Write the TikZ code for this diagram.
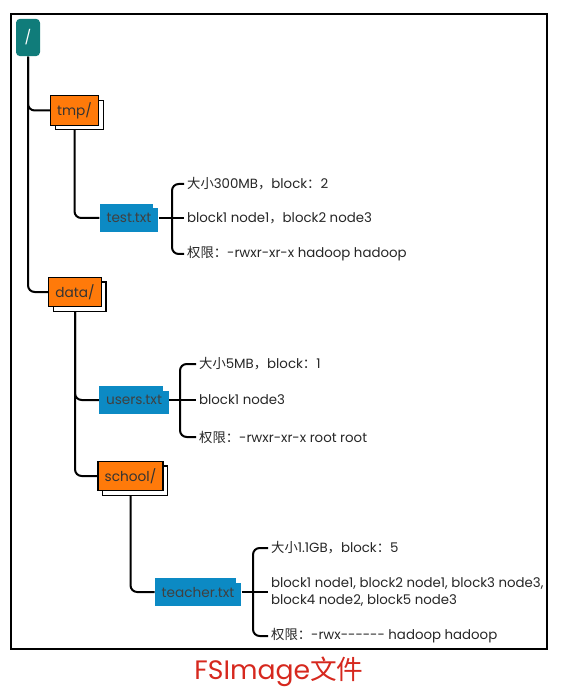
\documentclass[tikz,border=0pt]{standalone}
\usepackage{fontspec}
\setmainfont{Poppins}
\newfontfamily\cjk{Noto Sans CJK SC}
\usetikzlibrary{shadows,calc,backgrounds}
\newcommand{\zh}[1]{{\cjk #1}}

\definecolor{rootteal}{RGB}{16,124,122}
\definecolor{dirorange}{RGB}{255,122,10}
\definecolor{fileblue}{RGB}{12,138,196}
\definecolor{capred}{RGB}{214,40,30}

\tikzset{every picture/.style={line width=0.75pt}}

\begin{document}
\begin{tikzpicture}[x=0.75pt,y=0.75pt,yscale=-1,xscale=1,
	tree/.style={line width=1.5pt, rounded corners=5pt},
	rootbox/.style={fill=rootteal, text=white, rounded corners=3pt, minimum width=18pt, minimum height=28pt, font=\fontsize{10.5}{12}\selectfont},
	dirbox/.style={fill=dirorange, draw=black, line width=0.9pt, inner xsep=5pt, minimum height=22pt, text=black!80, font=\fontsize{10.25}{12}\selectfont,
		copy shadow={shadow xshift=3.5pt, shadow yshift=-3.5pt, fill=white, draw=black, line width=0.9pt}},
	filebox/.style={fill=fileblue, inner xsep=5pt, minimum height=21pt, text=black!75, font=\fontsize{10.25}{12}\selectfont},
	info/.style={anchor=west, inner sep=2pt, text=black!85, align=left, font=\fontsize{10}{13}\selectfont}
	]
	\useasboundingbox (0,0) rectangle (562,698);

	%Frame
	\draw [line width=1.8pt] (11,14) rectangle (547,649);

	% Text Node
	\node [rootbox] (root) at (28,37.5) {/};
	\node [dirbox] (tmp) at (74.5,110.5) {tmp/};
	\node [dirbox] (data) at (75,292) {data/};
	\node [dirbox] (school) at (130.5,476) {school/};
	\node [filebox] (test) at (129,218) {test.txt};
	\node [filebox] (users) at (134,400) {users.txt};
	\node [filebox] (teacher) at (198,592) {teacher.txt};
	% file corners
	\fill [white] ($(test.north east)+(-6,-0.5)$) rectangle ($(test.north east)+(0.5,5)$);
	\fill [white] ($(users.north east)+(-6,-0.5)$) rectangle ($(users.north east)+(0.5,5)$);
	\fill [white] ($(teacher.north east)+(-6,-0.5)$) rectangle ($(teacher.north east)+(0.5,5)$);

	% Text Node
	\node [info] (test1) at (184,184) {\zh{大小}300MB\zh{，}block\zh{：}2};
	\node [info] (test2) at (184,218) {block1 node1\zh{，}block2 node3};
	\node [info] (test3) at (184,254) {\zh{权限：}-rwxr-xr-x hadoop hadoop};
	\node [info] (users1) at (196,364) {\zh{大小}5MB\zh{，}block\zh{：}1};
	\node [info] (users2) at (196,400) {block1 node3};
	\node [info] (users3) at (196,437) {\zh{权限：}-rwxr-xr-x root root};
	\node [info] (teacher1) at (268,548) {\zh{大小}1.1GB\zh{，}block\zh{：}5};
	\node [info] (teacher2) at (268,592) {block1 node1, block2 node1, block3 node3,\\block4 node2, block5 node3};
	\node [info] (teacher3) at (268,636) {\zh{权限：}-rwx{-}{-}{-}{-}{-}{-} hadoop hadoop};

	\coordinate (testbr) at (172,218);
	\coordinate (usersbr) at (180,400);
	\coordinate (teacherbr) at (253,592);

	\begin{scope}[on background layer]
	%Tree Lines
	\draw [tree] (root.south) |- (tmp.west);
	\draw [tree] (root.south) |- (data.west);
	\draw [tree] (tmp.south) |- (test.west);
	\draw [tree] (data.south) |- (users.west);
	\draw [tree] (data.south) |- (school.west);
	\draw [tree] (school.south) |- (teacher.west);
	%Braces
	\draw [tree] (test1.west) -| (testbr) |- (test3.west);
	\draw [tree] (test.east) -- (test2.west);
	\draw [tree] (users1.west) -| (usersbr) |- (users3.west);
	\draw [tree] (users.east) -- (users2.west);
	\draw [tree] (teacher1.west) -| (teacherbr) |- (teacher3.west);
	\draw [tree] (teacher.east) -- (teacher2.west);
	\end{scope}

	% Caption
	\node [text=capred, font=\fontsize{20}{24}\selectfont] (caption) at (279,672) {FSImage\zh{文件}};

\end{tikzpicture}
\end{document}
